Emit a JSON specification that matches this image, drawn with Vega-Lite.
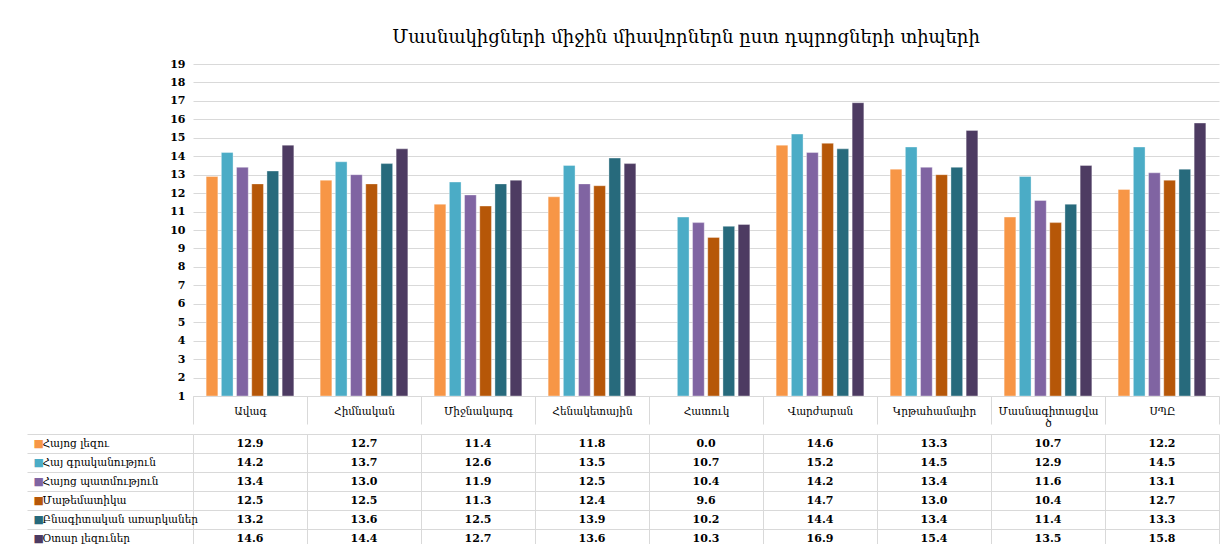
{
  "$schema": "https://vega.github.io/schema/vega-lite/v6.json",
  "padding": {"left": 26, "top": 29, "right": 0, "bottom": 0},
  "background": "#FFFFFF",
  "config": {"view": {"stroke": null}, "font": "DejaVu Serif", "concat": {"spacing": 0}},
  "datasets": {
    "d": [
      {"school": "Ավագ", "subject": "Հայոց լեզու", "value": 12.9},
      {"school": "Ավագ", "subject": "Հայ գրականություն", "value": 14.2},
      {"school": "Ավագ", "subject": "Հայոց պատմություն", "value": 13.4},
      {"school": "Ավագ", "subject": "Մաթեմատիկա", "value": 12.5},
      {"school": "Ավագ", "subject": "Բնագիտական առարկաներ", "value": 13.2},
      {"school": "Ավագ", "subject": "Օտար լեզուներ", "value": 14.6},
      {"school": "Հիմնական", "subject": "Հայոց լեզու", "value": 12.7},
      {"school": "Հիմնական", "subject": "Հայ գրականություն", "value": 13.7},
      {"school": "Հիմնական", "subject": "Հայոց պատմություն", "value": 13.0},
      {"school": "Հիմնական", "subject": "Մաթեմատիկա", "value": 12.5},
      {"school": "Հիմնական", "subject": "Բնագիտական առարկաներ", "value": 13.6},
      {"school": "Հիմնական", "subject": "Օտար լեզուներ", "value": 14.4},
      {"school": "Միջնակարգ", "subject": "Հայոց լեզու", "value": 11.4},
      {"school": "Միջնակարգ", "subject": "Հայ գրականություն", "value": 12.6},
      {"school": "Միջնակարգ", "subject": "Հայոց պատմություն", "value": 11.9},
      {"school": "Միջնակարգ", "subject": "Մաթեմատիկա", "value": 11.3},
      {"school": "Միջնակարգ", "subject": "Բնագիտական առարկաներ", "value": 12.5},
      {"school": "Միջնակարգ", "subject": "Օտար լեզուներ", "value": 12.7},
      {"school": "Հենակետային", "subject": "Հայոց լեզու", "value": 11.8},
      {"school": "Հենակետային", "subject": "Հայ գրականություն", "value": 13.5},
      {"school": "Հենակետային", "subject": "Հայոց պատմություն", "value": 12.5},
      {"school": "Հենակետային", "subject": "Մաթեմատիկա", "value": 12.4},
      {"school": "Հենակետային", "subject": "Բնագիտական առարկաներ", "value": 13.9},
      {"school": "Հենակետային", "subject": "Օտար լեզուներ", "value": 13.6},
      {"school": "Հատուկ", "subject": "Հայոց լեզու", "value": 0.0},
      {"school": "Հատուկ", "subject": "Հայ գրականություն", "value": 10.7},
      {"school": "Հատուկ", "subject": "Հայոց պատմություն", "value": 10.4},
      {"school": "Հատուկ", "subject": "Մաթեմատիկա", "value": 9.6},
      {"school": "Հատուկ", "subject": "Բնագիտական առարկաներ", "value": 10.2},
      {"school": "Հատուկ", "subject": "Օտար լեզուներ", "value": 10.3},
      {"school": "Վարժարան", "subject": "Հայոց լեզու", "value": 14.6},
      {"school": "Վարժարան", "subject": "Հայ գրականություն", "value": 15.2},
      {"school": "Վարժարան", "subject": "Հայոց պատմություն", "value": 14.2},
      {"school": "Վարժարան", "subject": "Մաթեմատիկա", "value": 14.7},
      {"school": "Վարժարան", "subject": "Բնագիտական առարկաներ", "value": 14.4},
      {"school": "Վարժարան", "subject": "Օտար լեզուներ", "value": 16.9},
      {"school": "Կրթահամալիր", "subject": "Հայոց լեզու", "value": 13.3},
      {"school": "Կրթահամալիր", "subject": "Հայ գրականություն", "value": 14.5},
      {"school": "Կրթահամալիր", "subject": "Հայոց պատմություն", "value": 13.4},
      {"school": "Կրթահամալիր", "subject": "Մաթեմատիկա", "value": 13.0},
      {"school": "Կրթահամալիր", "subject": "Բնագիտական առարկաներ", "value": 13.4},
      {"school": "Կրթահամալիր", "subject": "Օտար լեզուներ", "value": 15.4},
      {"school": "Մասնագիտացված", "subject": "Հայոց լեզու", "value": 10.7},
      {"school": "Մասնագիտացված", "subject": "Հայ գրականություն", "value": 12.9},
      {"school": "Մասնագիտացված", "subject": "Հայոց պատմություն", "value": 11.6},
      {"school": "Մասնագիտացված", "subject": "Մաթեմատիկա", "value": 10.4},
      {"school": "Մասնագիտացված", "subject": "Բնագիտական առարկաներ", "value": 11.4},
      {"school": "Մասնագիտացված", "subject": "Օտար լեզուներ", "value": 13.5},
      {"school": "ՍՊԸ", "subject": "Հայոց լեզու", "value": 12.2},
      {"school": "ՍՊԸ", "subject": "Հայ գրականություն", "value": 14.5},
      {"school": "ՍՊԸ", "subject": "Հայոց պատմություն", "value": 13.1},
      {"school": "ՍՊԸ", "subject": "Մաթեմատիկա", "value": 12.7},
      {"school": "ՍՊԸ", "subject": "Բնագիտական առարկաներ", "value": 13.3},
      {"school": "ՍՊԸ", "subject": "Օտար լեզուներ", "value": 15.8}
    ]
  },
  "vconcat": [
    {
      "width": 1026,
      "height": 332,
      "title": {"text": "Մասնակիցների միջին միավորներն ըստ դպրոցների տիպերի", "font": "DejaVu Serif", "fontSize": 18, "fontWeight": "normal", "color": "#000000", "offset": 11, "dx": -20},
      "data": {"name": "d"},
      "mark": {"type": "bar", "clip": true, "stroke": "#FFFFFF", "strokeWidth": 0.6, "strokeOpacity": 0.6},
      "encoding": {
        "x": {
          "field": "school", "type": "nominal",
          "sort": ["Ավագ", "Հիմնական", "Միջնակարգ", "Հենակետային", "Հատուկ", "Վարժարան", "Կրթահամալիր", "Մասնագիտացված", "ՍՊԸ"],
          "scale": {"type": "band", "paddingInner": 0, "paddingOuter": 0},
          "axis": {
            "title": null, "orient": "bottom", "labelAngle": 0, "tickBand": "extent", "tickSize": 28,
            "tickColor": "#D9D9D9", "domainColor": "#D9D9D9", "labelPadding": -13, "labelBaseline": "middle",
            "labelFont": "DejaVu Serif", "labelFontSize": 10.5, "labelColor": "#000000", "labelLimit": 0,
            "labelExpr": "datum.label == 'Մասնագիտացված' ? ['Մասնագիտացվա', 'ծ'] : datum.label"
          }
        },
        "xOffset": {
          "field": "subject", "type": "nominal",
          "sort": ["Հայոց լեզու", "Հայ գրականություն", "Հայոց պատմություն", "Մաթեմատիկա", "Բնագիտական առարկաներ", "Օտար լեզուներ"],
          "scale": {"paddingInner": 0.23, "paddingOuter": 0.865}
        },
        "y": {
          "field": "value", "type": "quantitative",
          "scale": {"domain": [1, 19], "nice": false, "zero": false},
          "axis": {
            "title": null, "values": [1,2,3,4,5,6,7,8,9,10,11,12,13,14,15,16,17,18,19],
            "domain": false, "ticks": false, "gridColor": "#D9D9D9", "labelPadding": 8,
            "labelFont": "DejaVu Serif", "labelFontSize": 11, "labelFontWeight": "bold", "labelColor": "#000000"
          }
        },
        "y2": {"datum": 1},
        "color": {
          "field": "subject", "type": "nominal",
          "scale": {
            "domain": ["Հայոց լեզու", "Հայ գրականություն", "Հայոց պատմություն", "Մաթեմատիկա", "Բնագիտական առարկաներ", "Օտար լեզուներ"],
            "range": ["#F79646", "#4BACC6", "#8064A2", "#B65708", "#276A7C", "#4D3B62"]
          },
          "legend": null
        }
      }
    },
    {
      "width": 1026,
      "height": 114,
      "data": {"name": "d"},
      "layer": [
        {
          "mark": {"type": "text", "font": "DejaVu Serif", "fontSize": 11, "fontWeight": "bold", "color": "#000000"},
          "encoding": {
            "x": {
              "field": "school", "type": "nominal",
              "sort": ["Ավագ", "Հիմնական", "Միջնակարգ", "Հենակետային", "Հատուկ", "Վարժարան", "Կրթահամալիր", "Մասնագիտացված", "ՍՊԸ"],
              "scale": {"type": "band", "paddingInner": 0, "paddingOuter": 0},
              "axis": {"title": null, "orient": "bottom", "grid": true, "tickBand": "extent", "gridColor": "#D9D9D9", "labels": false, "ticks": false, "domain": false}
            },
            "y": {
              "field": "subject", "type": "nominal",
              "sort": ["Հայոց լեզու", "Հայ գրականություն", "Հայոց պատմություն", "Մաթեմատիկա", "Բնագիտական առարկաներ", "Օտար լեզուներ"],
              "scale": {"type": "band", "paddingInner": 0, "paddingOuter": 0},
              "axis": {
                "title": null, "orient": "left", "grid": true, "gridColor": "#D9D9D9", "tickBand": "extent", "tickSize": 166,
                "tickColor": "#D9D9D9", "domain": false, "labelAlign": "left", "labelBaseline": "middle", "labelPadding": -15,
                "labelFont": "DejaVu Serif", "labelFontSize": 10.5, "labelColor": "#000000", "labelLimit": 0
              }
            },
            "text": {"field": "value", "type": "quantitative", "format": ".1f"}
          }
        },
        {
          "mark": {"type": "text"},
          "encoding": {
            "y": {
              "field": "subject", "type": "nominal",
              "sort": ["Հայոց լեզու", "Հայ գրականություն", "Հայոց պատմություն", "Մաթեմատիկա", "Բնագիտական առարկաներ", "Օտար լեզուներ"],
              "scale": {"type": "band", "paddingInner": 0, "paddingOuter": 0},
              "axis": {
                "title": null, "orient": "left", "grid": false, "ticks": false, "tickSize": 0, "domain": false,
                "labelExpr": "'■'", "labelAlign": "left", "labelBaseline": "middle", "labelPadding": 160,
                "labelFontSize": 11, "labelFont": "DejaVu Sans",
                "labelColor": {
                  "condition": [
                    {"test": "datum.value === 'Հայոց լեզու'", "value": "#F79646"},
                    {"test": "datum.value === 'Հայ գրականություն'", "value": "#4BACC6"},
                    {"test": "datum.value === 'Հայոց պատմություն'", "value": "#8064A2"},
                    {"test": "datum.value === 'Մաթեմատիկա'", "value": "#B65708"},
                    {"test": "datum.value === 'Բնագիտական առարկաներ'", "value": "#276A7C"}
                  ],
                  "value": "#4D3B62"
                }
              }
            },
            "text": {"value": ""}
          }
        }
      ],
      "resolve": {"axis": {"y": "independent"}}
    }
  ]
}
